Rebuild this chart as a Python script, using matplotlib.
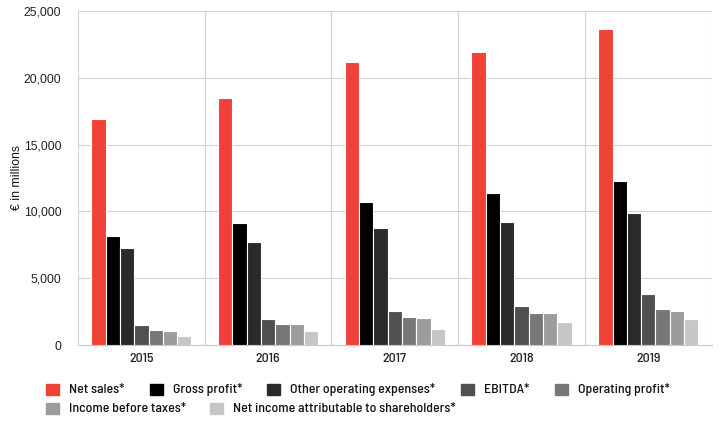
import matplotlib
matplotlib.use("Agg")
import matplotlib.pyplot as plt
from matplotlib import font_manager
import numpy as np

years = ["2015", "2016", "2017", "2018", "2019"]
series_names = [
    "Net sales*",
    "Gross profit*",
    "Other operating expenses*",
    "EBITDA*",
    "Operating profit*",
    "Income before taxes*",
    "Net income attributable to shareholders*",
]
net_sales = [16915, 18483, 21218, 21915, 23640]
gross_profit = [8168, 9100, 10703, 11363, 12293]
other_opex = [7289, 7700, 8766, 9172, 9843]
ebitda = [1475, 1923, 2511, 2882, 3845]
operating_profit = [1094, 1549, 2070, 2368, 2660]
income_before_taxes = [1033, 1543, 2000, 2363, 2536]
net_income = [660, 1017, 1173, 1709, 1976]
values = [net_sales, gross_profit, other_opex, ebitda, operating_profit,
          income_before_taxes, net_income]
colors = ["#EF4136", "#000000", "#2a2a2a", "#505050", "#777777", "#9c9c9c", "#c6c6c6"]
yticks = [0, 5000, 10000, 15000, 20000, 25000]

avail = {f.name for f in font_manager.fontManager.ttflist}
cond = "Barlow Semi Condensed" if "Barlow Semi Condensed" in avail else "DejaVu Sans"
base = "Liberation Sans" if "Liberation Sans" in avail else "DejaVu Sans"

W, H = 723, 425
fig = plt.figure(figsize=(W / 100, H / 100), dpi=100)
ax = fig.add_axes([78 / W, 1 - 345 / H, (711.7 - 78) / W, (345 - 11) / H])

n = len(values)
slot = 0.113
x = np.arange(len(years))
for i, (vals, c) in enumerate(zip(values, colors)):
    off = (i - (n - 1) / 2) * slot
    ax.bar(x + off, vals, width=slot, color=c, edgecolor="white", linewidth=0.8, zorder=3)

ax.set_xlim(-0.5, len(years) - 0.5)
ax.set_ylim(0, 25000)
ax.set_yticks(yticks)
ax.set_yticklabels([f"{v:,}" for v in yticks], fontname=base, fontsize=8.8, color="#222222")
ax.set_xticks(x)
ax.set_xticklabels(years, fontname=cond, fontsize=10, fontweight=500, color="#222222")
ax.tick_params(axis="both", length=0)
ax.tick_params(axis="x", pad=6)
ax.tick_params(axis="y", pad=12)
ax.grid(axis="y", color="#d3d3d3", linewidth=0.8, zorder=0)
for b in np.arange(-0.5, len(years), 1.0):
    ax.axvline(b, color="#d3d3d3", linewidth=0.8, zorder=0)
for s in ["top", "right", "left"]:
    ax.spines[s].set_visible(False)
ax.spines["bottom"].set_color("#c8c8c8")
ax.spines["bottom"].set_linewidth(0.8)
ax.set_ylabel("€ in millions", fontname=base, fontsize=8.8, color="#111111")
ax.yaxis.set_label_coords((23 - 78) / (711.7 - 78), 0.5)

# legend (manual flow layout)
legend_pos = [(46, 384), (150, 384), (267, 384), (461, 384), (555, 384),
              (46, 403), (210, 403)]
for (px, py), name, c in zip(legend_pos, series_names, colors):
    fig.patches.append(plt.Rectangle((px / W, 1 - (py + 11) / H), 13 / W, 11 / H,
                                     transform=fig.transFigure, color=c, figure=fig))
    fig.text((px + 23) / W, 1 - (py + 6) / H, name, fontname=cond, fontsize=10,
             fontweight=500, color="#111111", va="center", ha="left")

fig.savefig("out.png", dpi=100)
